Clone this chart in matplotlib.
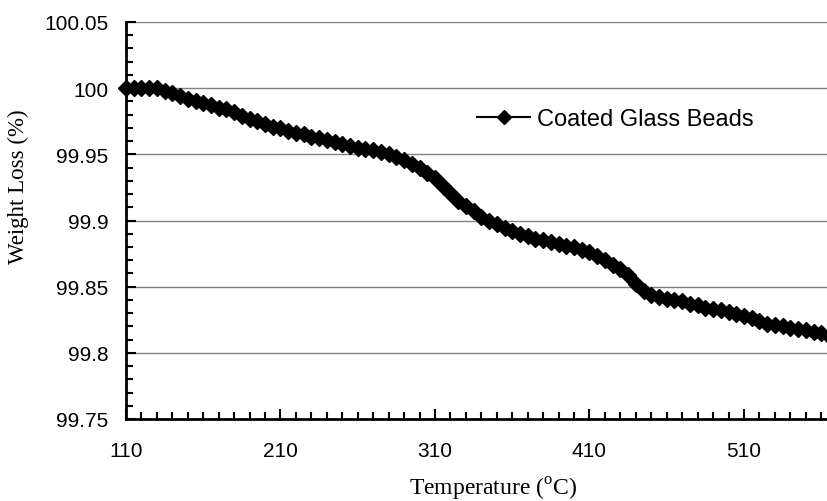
import matplotlib
matplotlib.use("Agg")
import matplotlib.pyplot as plt
from matplotlib.ticker import MultipleLocator, FixedLocator

temperature = list(range(110, 570, 5))
weight = [
    100.000, 100.000, 100.000, 100.000, 100.000, 99.998, 99.996, 99.994, 99.992, 99.990,
    99.989, 99.987, 99.985, 99.984, 99.982, 99.979, 99.977, 99.975, 99.973, 99.971,
    99.970, 99.968, 99.966, 99.965, 99.963, 99.962, 99.961, 99.959, 99.958, 99.956,
    99.955, 99.954, 99.953, 99.952, 99.950, 99.948, 99.946, 99.943, 99.940, 99.936,
    99.932, 99.926, 99.921, 99.915, 99.911, 99.907, 99.903, 99.900, 99.897, 99.894,
    99.892, 99.890, 99.888, 99.886, 99.885, 99.884, 99.882, 99.881, 99.880, 99.878,
    99.876, 99.873, 99.870, 99.866, 99.863, 99.859, 99.852, 99.847, 99.844, 99.842,
    99.841, 99.840, 99.839, 99.837, 99.836, 99.834, 99.833, 99.832, 99.831, 99.829,
    99.828, 99.826, 99.824, 99.822, 99.821, 99.820, 99.819, 99.818, 99.817, 99.816,
    99.815, 99.813,
]
series_name = "Coated Glass Beads"
x_ticks = [110, 210, 310, 410, 510]
y_ticks = [99.75, 99.8, 99.85, 99.9, 99.95, 100, 100.05]
y_tick_labels = ["99.75", "99.8", "99.85", "99.9", "99.95", "100", "100.05"]

plt.rcParams['mathtext.fontset'] = 'custom'
plt.rcParams['mathtext.rm'] = 'Liberation Serif'

fig = plt.figure(figsize=(8.28, 5.02), dpi=100)
W, H = 828, 502
left, right, top, bottom = 126, 830, 23, 420
ax = fig.add_axes([left / W, 1 - bottom / H, (right - left) / W, (bottom - top) / H])

line, = ax.plot(temperature, weight, color='black', marker='D', markersize=8.5,
                linewidth=1.5, label=series_name, clip_on=False, zorder=3)

ax.set_xlim(110, 110 + (right - left) / 1.545)
ax.set_ylim(99.75, 100.05)

ax.xaxis.set_major_locator(FixedLocator(x_ticks))
ax.xaxis.set_minor_locator(MultipleLocator(10))
ax.yaxis.set_major_locator(FixedLocator(y_ticks))
ax.yaxis.set_minor_locator(MultipleLocator(0.01))
ax.set_yticklabels(y_tick_labels)

for lab in ax.get_xticklabels() + ax.get_yticklabels():
    lab.set_fontfamily('Liberation Sans')
    lab.set_fontsize(15)

ax.tick_params(axis='both', which='both', direction='in', color='black', width=1.5)
ax.tick_params(axis='both', which='major', length=7)
ax.tick_params(axis='both', which='minor', length=5)
ax.tick_params(axis='x', which='major', pad=16)
ax.tick_params(axis='y', which='major', pad=12.5)

ax.spines['top'].set_visible(False)
ax.spines['right'].set_visible(False)
ax.spines['left'].set_linewidth(2)
ax.spines['bottom'].set_linewidth(2)

for yv in y_ticks[1:]:
    ax.axhline(yv, color='#808080', linewidth=1, zorder=1)

fig.text(18 / W, 1 - 187 / H, 'Weight Loss (%)', rotation=90, ha='center', va='center',
         family='Liberation Serif', fontsize=16.5)
fig.text(493 / W, 1 - 489 / H, r'Temperature ($^{\mathrm{o}}$C)', ha='center', va='center',
         family='Liberation Serif', fontsize=17)

leg = ax.legend(loc='center left', bbox_to_anchor=(477 / W, 1 - 120 / H),
                bbox_transform=fig.transFigure, frameon=False, numpoints=1,
                handlelength=2.25, handletextpad=0.3, borderpad=0, borderaxespad=0,
                markerscale=0.85,
                prop={'family': 'Liberation Sans', 'size': 17})

fig.savefig('out.png', dpi=100)
